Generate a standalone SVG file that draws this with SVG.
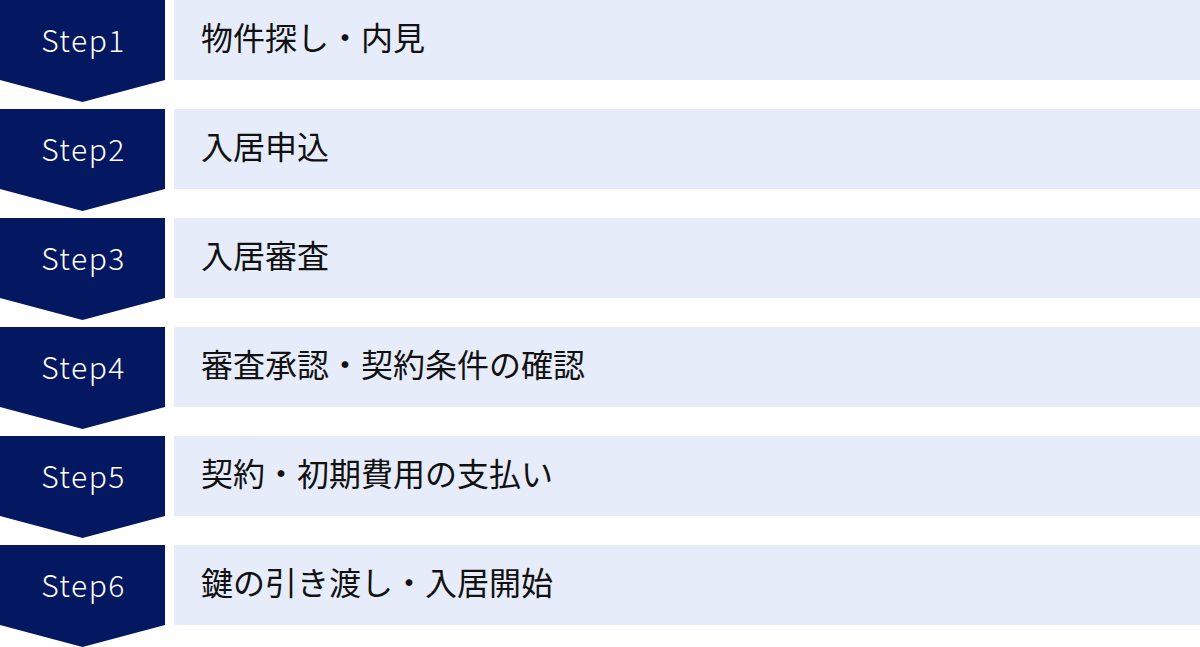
<svg xmlns="http://www.w3.org/2000/svg" width="1200" height="647" viewBox="0 0 1200 647">
<defs>
<style>
.chev{fill:#041861}
.bar{fill:#E6ECF9}
.st{font-family:"Noto Sans CJK JP","Noto Sans",sans-serif;font-size:30px;font-weight:300;fill:#FFFFFF;letter-spacing:1.5px;text-anchor:middle}
.lb{font-family:"Noto Sans CJK JP","Noto Sans",sans-serif;font-size:32px;fill:#111111}
</style>
<path id="chevshape" class="chev" d="M0 0H165V80L82.5 102L0 80Z"/>
</defs>
<rect width="1200" height="647" fill="#FFFFFF"/>
<g id="connectors"></g>
<g id="step1" transform="translate(0,0)">
<use href="#chevshape"/>
<rect class="bar" x="174" y="0" width="1026" height="80"/>
<text class="st" x="83.5" y="52">Step1</text>
<text class="lb" x="201" y="50">物件探し・内見</text>
</g>
<g id="step2" transform="translate(0,109)">
<use href="#chevshape"/>
<rect class="bar" x="174" y="0" width="1026" height="80"/>
<text class="st" x="83.5" y="52">Step2</text>
<text class="lb" x="201" y="50">入居申込</text>
</g>
<g id="step3" transform="translate(0,218)">
<use href="#chevshape"/>
<rect class="bar" x="174" y="0" width="1026" height="80"/>
<text class="st" x="83.5" y="52">Step3</text>
<text class="lb" x="201" y="50">入居審査</text>
</g>
<g id="step4" transform="translate(0,327)">
<use href="#chevshape"/>
<rect class="bar" x="174" y="0" width="1026" height="80"/>
<text class="st" x="83.5" y="52">Step4</text>
<text class="lb" x="201" y="50">審査承認・契約条件の確認</text>
</g>
<g id="step5" transform="translate(0,436)">
<use href="#chevshape"/>
<rect class="bar" x="174" y="0" width="1026" height="80"/>
<text class="st" x="83.5" y="52">Step5</text>
<text class="lb" x="201" y="50">契約・初期費用の支払い</text>
</g>
<g id="step6" transform="translate(0,545)">
<use href="#chevshape"/>
<rect class="bar" x="174" y="0" width="1026" height="80"/>
<text class="st" x="83.5" y="52">Step6</text>
<text class="lb" x="201" y="50">鍵の引き渡し・入居開始</text>
</g>
</svg>
